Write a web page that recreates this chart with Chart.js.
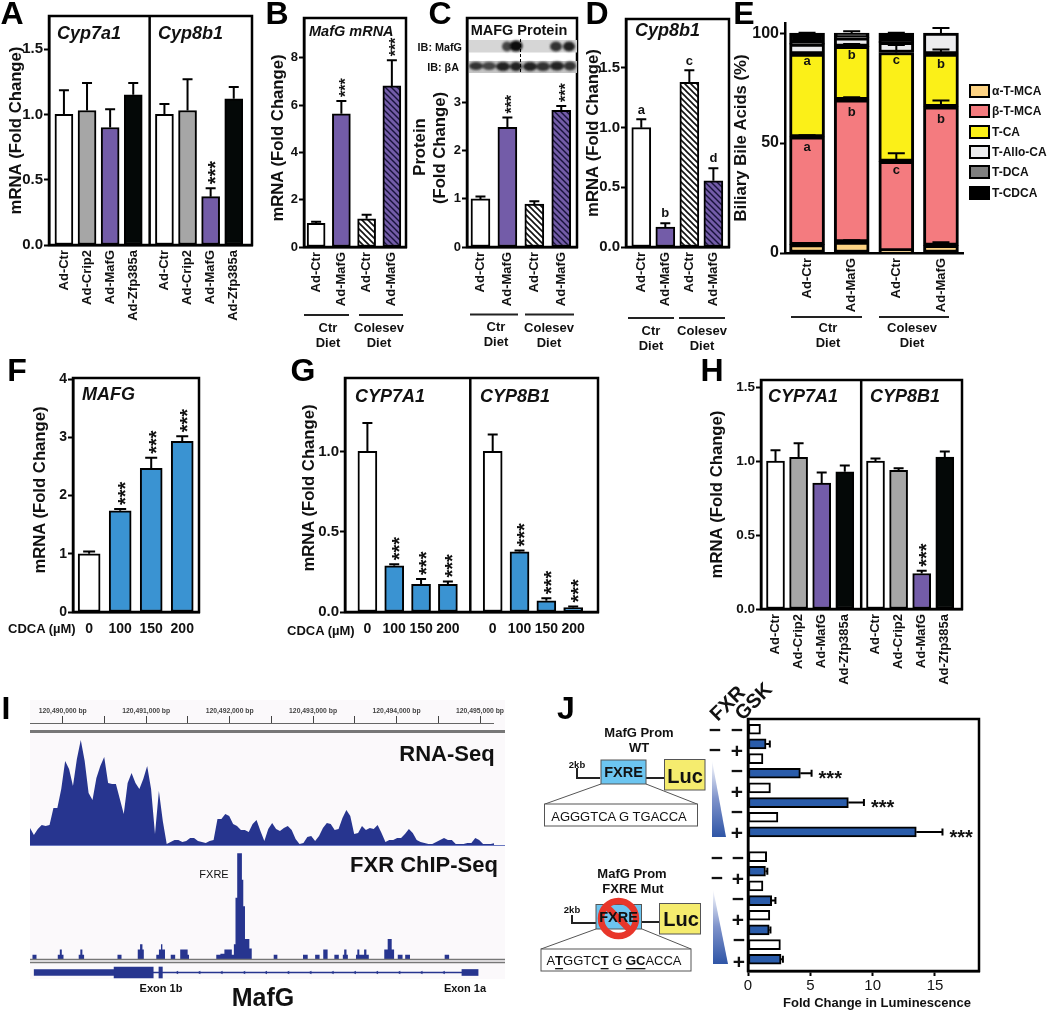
<!DOCTYPE html>
<html>
<head>
<meta charset="utf-8">
<title>MafG figure</title>
<script src="https://cdn.jsdelivr.net/npm/chart.js@4"></script>
<style>
	html, body { margin: 0; padding: 0; background: #fff; }
	body { position: relative; width: 1050px; height: 1010px; overflow: hidden; }
	canvas { position: absolute; z-index: 1; }
	#track_bg { position: absolute; z-index: 0; left: 30px; top: 700px; width: 475px; height: 279px; background: #fbf9fb; }
	#overlay { position: absolute; z-index: 5; left: 0; top: 0; }
	#overlay text { font-family: "Liberation Sans", Arial, sans-serif; font-weight: bold; fill: #111; dominant-baseline: central; text-anchor: middle; }
	#overlay text.letter { font-size: 32px; fill: #000; }
	#overlay text.gene { font-size: 18px; font-style: italic; text-anchor: start; }
	#overlay text.ytitle { font-size: 16.7px; }
	#overlay text.diet { font-size: 13px; }
	#overlay text.sign { font-size: 21px; }
	#overlay text.seq { font-size: 13px; font-weight: normal; }
	.legend_box { position: absolute; z-index: 2; left: 969px; width: 21px; height: 14px; box-sizing: border-box; border: 2.5px solid #000; }
	.legend_text { position: absolute; z-index: 2; left: 992px; font: bold 12px "Liberation Sans", Arial, sans-serif; color: #111; line-height: 14px; white-space: nowrap; }
</style>
</head>
<body>
<div id="track_bg"></div>

<svg id="overlay" width="1050" height="1010" viewBox="0 0 1050 1010">
	<defs>
		<filter id="smear"><feGaussianBlur stdDeviation="1.3"/></filter>
		<linearGradient id="wedge" x1="0" y1="0" x2="0" y2="1">
			<stop offset="0" stop-color="#ffffff"/>
			<stop offset="0.5" stop-color="#7f93cb"/>
			<stop offset="1" stop-color="#2f55a6"/>
		</linearGradient>
	</defs>

	<text class="letter" x="12" y="13">A</text>
	<text class="letter" x="277" y="13">B</text>
	<text class="letter" x="440" y="13">C</text>
	<text class="letter" x="597" y="13">D</text>
	<text class="letter" x="744" y="13">E</text>
	<text class="letter" x="17" y="370">F</text>
	<text class="letter" x="303" y="370">G</text>
	<text class="letter" x="712" y="370">H</text>
	<text class="letter" x="6" y="708">I</text>
	<text class="letter" x="566" y="708">J</text>

	<text class="gene" x="57" y="33">Cyp7a1</text>
	<text class="gene" x="158" y="33">Cyp8b1</text>
	<text class="gene" x="309" y="31" style="font-size:14.5px">MafG mRNA</text>
	<text class="gene" x="635" y="30">Cyp8b1</text>
	<text class="gene" x="82" y="394">MAFG</text>
	<text class="gene" x="355" y="396">CYP7A1</text>
	<text class="gene" x="480" y="396">CYP8B1</text>
	<text class="gene" x="768" y="396">CYP7A1</text>
	<text class="gene" x="870" y="396">CYP8B1</text>

	<text class="ytitle" x="277" y="138" transform="rotate(-90 277 138)">mRNA (Fold Change)</text>
	<text class="ytitle" x="419" y="147" transform="rotate(-90 419 147)">Protein</text>
	<text class="ytitle" x="439" y="148" transform="rotate(-90 439 148)">(Fold Change)</text>
	<text class="ytitle" x="39" y="490" transform="rotate(-90 39 490)">mRNA (Fold Change)</text>
	<text class="ytitle" x="308" y="488" transform="rotate(-90 308 488)">mRNA (Fold Change)</text>

	<!-- blot strips above panel C -->
	<rect x="469" y="40" width="108" height="12.5" fill="#d6d6d6"/>
	<rect x="469" y="61" width="108" height="12" fill="#c4c4c4"/>
	<g filter="url(#smear)">
		<ellipse cx="507" cy="46.5" rx="5" ry="5" fill="#444"/>
		<ellipse cx="516" cy="46" rx="6.5" ry="5.5" fill="#111"/>
		<ellipse cx="556" cy="46.5" rx="6" ry="5" fill="#333"/>
		<ellipse cx="569" cy="46.5" rx="6" ry="5" fill="#222"/>
		<ellipse cx="476" cy="66" rx="7" ry="4" fill="#333"/>
		<ellipse cx="489" cy="66" rx="7" ry="4" fill="#444"/>
		<ellipse cx="503" cy="66.5" rx="7" ry="4.5" fill="#222"/>
		<ellipse cx="516" cy="66.5" rx="6" ry="4.5" fill="#222"/>
		<ellipse cx="530" cy="66.5" rx="7" ry="4.5" fill="#222"/>
		<ellipse cx="543" cy="66.5" rx="7" ry="4.5" fill="#333"/>
		<ellipse cx="557" cy="66" rx="7" ry="4.5" fill="#222"/>
		<ellipse cx="570" cy="66" rx="6" ry="4.5" fill="#333"/>
	</g>
	<line x1="520.5" y1="39" x2="520.5" y2="74" stroke="#000" stroke-width="1" stroke-dasharray="3 2"/>
	<text x="519" y="30" style="font-size:14.5px">MAFG Protein</text>
	<text x="462" y="47" style="font-size:10.8px;text-anchor:end">IB: MafG</text>
	<text x="459" y="67" style="font-size:10.8px;text-anchor:end">IB: βA</text>

	<!-- diet brackets -->
	<g stroke="#222" stroke-width="2">
		<line x1="304" y1="315" x2="349" y2="315"/>
		<line x1="359" y1="315" x2="403" y2="315"/>
		<line x1="470" y1="314.5" x2="518" y2="314.5"/>
		<line x1="525" y1="314.5" x2="574" y2="314.5"/>
		<line x1="628" y1="318" x2="674" y2="318"/>
		<line x1="679" y1="318" x2="725" y2="318"/>
		<line x1="791" y1="317" x2="862" y2="317"/>
		<line x1="879" y1="317" x2="949" y2="317"/>
	</g>
	<text class="diet" x="328" y="327">Ctr</text><text class="diet" x="328" y="342">Diet</text>
	<text class="diet" x="379" y="327">Colesev</text><text class="diet" x="379" y="342">Diet</text>
	<text class="diet" x="496" y="326">Ctr</text><text class="diet" x="496" y="341">Diet</text>
	<text class="diet" x="549" y="327">Colesev</text><text class="diet" x="549" y="342">Diet</text>
	<text class="diet" x="651" y="330">Ctr</text><text class="diet" x="651" y="345">Diet</text>
	<text class="diet" x="702" y="330">Colesev</text><text class="diet" x="702" y="345">Diet</text>
	<text class="diet" x="828" y="327">Ctr</text><text class="diet" x="828" y="342">Diet</text>
	<text class="diet" x="912" y="327">Colesev</text><text class="diet" x="912" y="342">Diet</text>

	<text x="8" y="628" style="font-size:13px;text-anchor:start">CDCA (µM)</text>
	<text x="287" y="630" style="font-size:13px;text-anchor:start">CDCA (µM)</text>

	<!-- browser track furniture -->
	<rect x="30" y="730" width="475" height="3" fill="#777"/>
	<line x1="30" y1="845.5" x2="505" y2="845.5" stroke="#6a78c0" stroke-width="1"/>
	<line x1="30" y1="959.5" x2="505" y2="959.5" stroke="#777" stroke-width="1.5"/>
	<line x1="30" y1="962.5" x2="505" y2="962.5" stroke="#777" stroke-width="1.5"/>
	<text x="447" y="753" style="font-size:22px">RNA-Seq</text>
	<text x="424" y="864" style="font-size:22px">FXR ChIP-Seq</text>
	<text x="214" y="874" style="font-size:11px;font-weight:normal">FXRE</text>
	<text x="161" y="988" style="font-size:11px">Exon 1b</text>
	<text x="465" y="988" style="font-size:11px">Exon 1a</text>
	<text x="263" y="997" style="font-size:25px">MafG</text>

	<!-- promoter constructs -->
	<text class="diet" x="639" y="732">MafG Prom</text>
	<text class="diet" x="639" y="747">WT</text>
	<text x="577" y="764" style="font-size:9.5px">2kb</text>
	<polyline points="577,768 577,778 600,778" fill="none" stroke="#222" stroke-width="2"/>
	<line x1="646" y1="778" x2="664" y2="778" stroke="#222" stroke-width="2"/>
	<rect x="601" y="760" width="45" height="24" fill="#6cc5f0" stroke="#555"/>
	<text x="623.5" y="772" style="font-size:14.5px">FXRE</text>
	<rect x="664.5" y="759.5" width="40.5" height="30.5" fill="#f5ec6e" stroke="#555"/>
	<text x="685" y="776" style="font-size:20px">Luc</text>
	<line x1="601" y1="784" x2="545" y2="804" stroke="#555"/>
	<line x1="646" y1="784" x2="697" y2="804" stroke="#555"/>
	<rect x="544.5" y="804" width="153" height="22" fill="#fff" stroke="#555"/>
	<text class="seq" x="619" y="816">AGGGTCA G TGACCA</text>

	<text class="diet" x="632" y="873">MafG Prom</text>
	<text class="diet" x="633" y="888">FXRE Mut</text>
	<text x="572" y="909" style="font-size:9.5px">2kb</text>
	<polyline points="572,915 572,923 596,923" fill="none" stroke="#222" stroke-width="2"/>
	<line x1="642" y1="922" x2="659" y2="922" stroke="#222" stroke-width="2"/>
	<rect x="596" y="904.5" width="45.5" height="24.5" fill="#6cc5f0" stroke="#555"/>
	<circle cx="618.5" cy="918.5" r="17.5" fill="none" stroke="#e8362a" stroke-width="6.5"/>
	<line x1="606" y1="906" x2="631" y2="931" stroke="#e8362a" stroke-width="6.5"/>
	<text x="618.5" y="917" style="font-size:14.5px">FXRE</text>
	<rect x="659.5" y="903.5" width="41" height="30.5" fill="#f5ec6e" stroke="#555"/>
	<text x="681" y="919" style="font-size:20px">Luc</text>
	<line x1="596" y1="929" x2="541" y2="949" stroke="#555"/>
	<line x1="642" y1="929" x2="691" y2="949" stroke="#555"/>
	<rect x="541" y="949" width="150" height="22" fill="#fff" stroke="#555"/>
	<text class="seq" x="614" y="960">A<tspan font-weight="bold" text-decoration="underline">T</tspan>GGTC<tspan font-weight="bold" text-decoration="underline">T</tspan> G <tspan font-weight="bold" text-decoration="underline">GC</tspan>ACCA</text>

	<polygon points="712,760 726,837 712,837" fill="url(#wedge)"/>
	<polygon points="713,889 728,964 713,964" fill="url(#wedge)"/>

	<text x="727" y="703" transform="rotate(-45 727 703)" style="font-size:20px">FXR</text>
	<text x="753" y="701" transform="rotate(-45 753 701)" style="font-size:20px">GSK</text>
	<text class="sign" x="715" y="729">−</text><text class="sign" x="737" y="729">−</text>
	<text class="sign" x="715" y="749">−</text><text class="sign" x="737" y="750">+</text>
	<text class="sign" x="737" y="770">−</text><text class="sign" x="737" y="791">+</text>
	<text class="sign" x="737" y="811">−</text><text class="sign" x="737" y="832">+</text>
	<text class="sign" x="717" y="857">−</text><text class="sign" x="738" y="857">−</text>
	<text class="sign" x="717" y="877">−</text><text class="sign" x="738" y="878">+</text>
	<text class="sign" x="738" y="898">−</text><text class="sign" x="738" y="919">+</text>
	<text class="sign" x="739" y="939">−</text><text class="sign" x="739" y="961">+</text>
	<text x="877" y="1002" style="font-size:13px">Fold Change in Luminescence</text>
</svg>

<script>
// Panel A
var a_labels = ['Ad-Ctr', 'Ad-Crip2', 'Ad-MafG', 'Ad-Zfp385a', 'Ad-Ctr', 'Ad-Crip2', 'Ad-MafG', 'Ad-Zfp385a'];
var a_values = [1.0, 1.03, 0.9, 1.15, 1.0, 1.03, 0.37, 1.12];
var a_tops = [1.185, 1.24, 1.04, 1.24, 1.08, 1.27, 0.435, 1.21];
var a_starred = [6];
var a_ticks = ['0.0', '0.5', '1.0', '1.5'];

// Panel B
var b_labels = ['Ad-Ctr', 'Ad-MafG', 'Ad-Ctr', 'Ad-MafG'];
var b_values = [1.0, 5.63, 1.19, 6.81];
var b_tops = [1.07, 6.17, 1.36, 7.89];
var b_starred = [1, 3];
var b_ticks = ['0', '2', '4', '6', '8'];

// Panel C
var c_labels = ['Ad-Ctr', 'Ad-MafG', 'Ad-Ctr', 'Ad-MafG'];
var c_values = [1.0, 2.49, 0.89, 2.84];
var c_tops = [1.05, 2.69, 0.95, 2.93];
var c_starred = [1, 3];
var c_ticks = ['0', '1', '2', '3'];

// Panel D
var d_labels = ['Ad-Ctr', 'Ad-MafG', 'Ad-Ctr', 'Ad-MafG'];
var d_values = [1.0, 0.167, 1.38, 0.554];
var d_tops = [1.07, 0.2, 1.48, 0.66];
var d_ticks = ['0.0', '0.5', '1.0', '1.5'];
var d_letters = ['a', 'b', 'c', 'd'];
var d_letter_bars = [0, 1, 2, 3];
var d_letter_y = [1.147, 0.285, 1.556, 0.743];

// Panel E, stacked from the bottom up
var e_labels = ['Ad-Ctr', 'Ad-MafG', 'Ad-Ctr', 'Ad-MafG'];
var e_names = ['α-T-MCA', 'β-T-MCA', 'T-CA', 'T-Allo-CA', 'T-DCA', 'T-CDCA'];
var e_alpha = [3.8, 5, 1, 3.5];
var e_beta = [49, 64.7, 40.7, 63];
var e_ca = [37.7, 24.3, 49.5, 24];
var e_allo = [4.5, 3.8, 4.6, 9.5];
var e_dca = [0.3, 0.3, 0.3, 0];
var e_cdca = [4.7, 1.9, 3.9, 0];
var e_alpha_tops = [null, 5.8, null, 4.9];
var e_beta_tops = [53.5, 70.8, 45.4, 69.4];
var e_ca_tops = [91, 95, 94.6, 92.6];
var e_allo_tops = [null, null, null, 102.3];
var e_cdca_tops = [100.2, 100.9, 100.2, null];
var e_ticks = ['0', '50', '100'];
var e_letters = ['a', 'a', 'b', 'b', 'c', 'c', 'b', 'b'];
var e_letter_bars = [0, 0, 1, 1, 2, 2, 3, 3];
var e_letter_y = [87, 48, 90, 64, 87.7, 37.4, 85.8, 60.9];

// Panel F
var f_labels = ['0', '100', '150', '200'];
var f_values = [1.0, 1.74, 2.47, 2.93];
var f_tops = [1.04, 1.77, 2.65, 3.02];
var f_starred = [1, 2, 3];
var f_ticks = ['0', '1', '2', '3', '4'];

// Panel G
var g_labels = ['0', '100', '150', '200', '0', '100', '150', '200'];
var g_values = [1.0, 0.288, 0.173, 0.173, 1.0, 0.375, 0.07, 0.027];
var g_tops = [1.177, 0.297, 0.206, 0.19, 1.105, 0.383, 0.086, 0.034];
var g_starred = [1, 2, 3, 5, 6, 7];
var g_ticks = ['0.0', '0.5', '1.0'];

// Panel H
var h_labels = ['Ad-Ctr', 'Ad-Crip2', 'Ad-MafG', 'Ad-Zfp385a', 'Ad-Ctr', 'Ad-Crip2', 'Ad-MafG', 'Ad-Zfp385a'];
var h_values = [1.0, 1.025, 0.852, 0.927, 1.0, 0.938, 0.24, 1.027];
var h_tops = [1.073, 1.12, 0.922, 0.97, 1.018, 0.952, 0.258, 1.064];
var h_starred = [6];
var h_ticks = ['0.0', '0.5', '1.0', '1.5'];

// Panel I, browser tracks (coverage)
var ruler_bp = [120490000, 120490500, 120491000, 120491500, 120492000, 120492500, 120493000, 120493500, 120494000, 120494500, 120495000];
var ruler_labels = ['120,490,000 bp', '', '120,491,000 bp', '', '120,492,000 bp', '', '120,493,000 bp', '', '120,494,000 bp', '', '120,495,000 bp'];
var rna_coverage = [
	17, 10, 16, 20, 19, 20, 37, 37, 56, 84, 76, 59, 86, 105, 84, 52, 45, 67, 79, 88,
	62, 61, 61, 46, 31, 62, 72, 62, 56, 66, 79, 56, 11, 54, 24, 1, 3, 5, 5, 3,
	4, 7, 7, 4, 3, 2, 4, 5, 26, 26, 31, 29, 21, 19, 15, 15, 13, 21, 25, 14,
	4, 16, 22, 16, 14, 17, 19, 15, 6, 1, 2, 8, 9, 4, 9, 17, 22, 21, 15, 16,
	27, 35, 29, 11, 12, 19, 15, 17, 16, 20, 12, 3, 5, 5, 7, 7, 11, 16, 12, 5,
	3, 2, 1, 1, 3, 5, 7, 5, 5, 1, 1, 1, 2, 2, 7, 5, 1, 1, 1, 2, 2
];
var chip_pos = [
	-392, -363, -316, -67, -43, -20, 0, 178, 197, 221, 241, 632, 679, 869, 896, 924, 940, 1086, 1117, 1141,
	1157, 1188, 1255, 1307, 1366, 1453, 1469, 1788, 1836, 1883, 1970, 1994, 2013, 2033, 2088, 2104, 2124, 2175, 2203, 2460,
	2503, 2803, 2858, 2945, 2997, 3040, 3091, 3170, 3222, 3269, 3285, 3312, 3328, 3423, 3439, 3462, 3518, 3545, 3573, 3754,
	3794, 3841, 3869, 3912, 3968, 3999, 4055, 4461, 4513, 5167
];
var chip_coverage = [
	0, 4, 0, 4, 9, 4, 0, 4, 9, 4, 0, 4, 0, 9, 14, 9, 0, 4, 9, 14,
	9, 0, 4, 0, 9, 4, 0, 4, 5, 9, 4, 14, 58, 100, 75, 50, 19, 10, 0, 4,
	0, 4, 0, 4, 0, 9, 0, 4, 0, 4, 9, 4, 0, 4, 9, 4, 9, 4, 0, 9,
	19, 9, 0, 4, 0, 4, 0, 4, 0, 0
];
var gene_utr = [[-343, 592], [4663, 4852]];
var gene_cds = [[592, 1050], [1117, 1157]];
var gene_intron = [[1050, 4663]];
var gene_arrows = [1330, 1590, 1850, 2115, 2370, 2630, 2890, 3150, 3410, 3670, 3930, 4190, 4450];

// Panel J
var j_values = [1.0, 1.45, 1.2, 4.2, 1.8, 8.05, 2.4, 13.5, 1.5, 1.4, 1.2, 1.9, 1.75, 1.7, 2.6, 2.65];
var j_tops = [null, 1.75, null, 5.1, null, 9.3, null, 15.6, null, 1.55, null, 2.2, null, 1.8, null, 2.8];
var j_starred = [3, 5, 7];
var j_ticks = ['0', '5', '10', '15'];

var WHITE = '#ffffff', GRAY = '#a6a6a6', PURPLE = '#735ca8', BLACK = '#040807', BLUE = '#3a93d2', NAVY = '#27358f', J_BLUE = '#2a5caa';
var Y_ROOM = 60, TOP_ROOM = 12, RIGHT_ROOM = 14, BOTTOM_ROOM = 90;

Chart.defaults.font.family = '"Liberation Sans", Arial, sans-serif';
Chart.defaults.color = '#111';
Chart.defaults.animation = false;

function hatch(bg, line, width) {
	var c = document.createElement('canvas');
	c.width = 6;
	c.height = 6;
	var x = c.getContext('2d');
	x.fillStyle = bg;
	x.fillRect(0, 0, 6, 6);
	x.strokeStyle = line;
	x.lineWidth = width;
	x.beginPath();
	x.moveTo(-1, -1);
	x.lineTo(7, 7);
	x.moveTo(-1, 5);
	x.lineTo(1, 7);
	x.moveTo(5, -1);
	x.lineTo(7, 1);
	x.stroke();
	return x.createPattern(c, 'repeat');
}

var HATCH_W = hatch('#ffffff', '#111111', 1.6);
var HATCH_P = hatch(PURPLE, '#17123a', 1.4);

function add_canvas(left, top, width, height) {
	var c = document.createElement('canvas');
	c.width = width;
	c.height = height;
	c.style.left = left + 'px';
	c.style.top = top + 'px';
	c.style.width = width + 'px';
	c.style.height = height + 'px';
	document.body.appendChild(c);
	return c;
}

function draw_stars(ctx, x, y, size, upright) {
	ctx.save();
	ctx.font = 'bold ' + size + 'px "Liberation Sans", Arial, sans-serif';
	ctx.fillStyle = '#111';
	ctx.textAlign = 'left';
	ctx.textBaseline = 'alphabetic';
	if (upright) {
		ctx.translate(x + size * 0.58, y);
		ctx.rotate(-Math.PI / 2);
	} else {
		ctx.translate(x, y + size * 0.58);
	}
	ctx.fillText('***', 0, 0);
	ctx.restore();
}

// error bars, significance stars, letters and the box round each panel
function panel_marks(cfg) {
	return {
		id: 'panel_marks',
		afterDatasetsDraw: function(chart) {
			var ctx = chart.ctx;
			var xs = chart.scales.x;
			var ys = chart.scales.y;
			var area = chart.chartArea;
			var cap = (cfg.cap_w || 10) / 2;
			var star_size = cfg.star_size || 20;

			ctx.save();
			ctx.strokeStyle = '#000';
			ctx.lineWidth = 2;

			chart.data.datasets.forEach(function(ds, d) {
				if (!ds.tops) {
					return;
				}
				var bars = chart.getDatasetMeta(d).data;
				ds.tops.forEach(function(top, i) {
					if (top === null) {
						return;
					}
					var bar = bars[i];
					ctx.beginPath();
					if (cfg.horizontal) {
						var px = xs.getPixelForValue(top);
						ctx.moveTo(bar.x, bar.y);
						ctx.lineTo(px, bar.y);
						ctx.moveTo(px, bar.y - cap);
						ctx.lineTo(px, bar.y + cap);
					} else {
						var py = ys.getPixelForValue(top);
						ctx.moveTo(bar.x, bar.y);
						ctx.lineTo(bar.x, py);
						ctx.moveTo(bar.x - cap, py);
						ctx.lineTo(bar.x + cap, py);
					}
					ctx.stroke();
					if (ds.starred && ds.starred.indexOf(i) >= 0) {
						if (cfg.horizontal) {
							draw_stars(ctx, px + 7, bar.y, star_size, false);
						} else {
							draw_stars(ctx, bar.x, py - 4, star_size, true);
						}
					}
				});
			});

			if (cfg.letters) {
				ctx.font = 'bold 13px "Liberation Sans", Arial, sans-serif';
				ctx.fillStyle = '#111';
				ctx.textAlign = 'center';
				ctx.textBaseline = 'middle';
				cfg.letters.forEach(function(text, i) {
					ctx.fillText(text, xs.getPixelForValue(cfg.positions[cfg.letter_bars[i]]), ys.getPixelForValue(cfg.letter_y[i]));
				});
			}

			if (cfg.frame !== false) {
				ctx.lineWidth = 2.5;
				ctx.strokeRect(area.left, area.top, area.right - area.left, area.bottom - area.top);
				if (cfg.divider_at) {
					var dx = xs.getPixelForValue(cfg.divider_at);
					ctx.beginPath();
					ctx.moveTo(dx, area.top);
					ctx.lineTo(dx, area.bottom);
					ctx.stroke();
				}
			}
			ctx.restore();
		}
	};
}

function bar_positions(count, group_at, group_gap) {
	var out = [];
	for (var i = 0; i < count; i++) {
		out.push(i + (group_at && i >= group_at ? group_gap : 0));
	}
	return out;
}

function value_axis(cfg, labels, max) {
	var axis = {
		type: 'linear',
		offset: false,
		min: 0,
		max: max,
		afterBuildTicks: function(s) {
			s.ticks = labels.map(function(v) { return {value: Number(v)}; });
		},
		ticks: {
			autoSkip: false,
			padding: 1,
			font: {size: cfg.tick_size || 14, weight: 'bold'},
			callback: function(v, i) { return labels[i]; }
		},
		grid: {drawOnChartArea: false, drawTicks: true, tickLength: 5, tickWidth: 2, tickColor: '#000'},
		border: {display: true, color: '#000', width: 2.5}
	};
	return axis;
}

function bar_panel(cfg) {
	var box = cfg.box;
	var width = Y_ROOM + (box[2] - box[0]) + RIGHT_ROOM;
	var height = TOP_ROOM + (box[3] - box[1]) + BOTTOM_ROOM;
	var left = box[0] - Y_ROOM;
	var canvas = add_canvas(left, box[1] - TOP_ROOM, width, height);

	cfg.positions = bar_positions(cfg.labels.length, cfg.group_at, cfg.group_gap);

	var datasets = cfg.series.map(function(s) {
		return {
			label: s.name,
			data: s.values.map(function(v, i) { return {x: cfg.positions[i], y: v}; }),
			backgroundColor: s.fills,
			borderColor: '#000',
			borderWidth: cfg.border_w || 2,
			borderSkipped: false,
			barThickness: cfg.bar_w,
			tops: s.tops,
			starred: s.starred
		};
	});

	var y_axis = value_axis(cfg, cfg.y_ticks, cfg.y_max);
	y_axis.stacked = !!cfg.stacked;
	y_axis.afterFit = function(s) { s.width = Y_ROOM; };
	if (cfg.y_title) {
		y_axis.title = {
			display: true,
			text: cfg.y_title,
			color: '#111',
			font: {size: 16.7, weight: 'bold'},
			padding: {top: cfg.y_title_x - left - 10, bottom: 0}
		};
	}

	new Chart(canvas, {
		type: 'bar',
		data: {datasets: datasets},
		options: {
			responsive: false,
			devicePixelRatio: 1,
			layout: {autoPadding: false, padding: {top: TOP_ROOM, right: RIGHT_ROOM, left: 0, bottom: 0}},
			plugins: {legend: {display: false}, tooltip: {enabled: false}},
			scales: {
				x: {
					type: 'linear',
					offset: false,
					stacked: !!cfg.stacked,
					min: cfg.x_range[0],
					max: cfg.x_range[1],
					afterBuildTicks: function(s) {
						s.ticks = cfg.positions.map(function(p) { return {value: p}; });
					},
					afterFit: function(s) { s.height = BOTTOM_ROOM; },
					ticks: {
						autoSkip: false,
						minRotation: cfg.flat_labels ? 0 : 90,
						maxRotation: cfg.flat_labels ? 0 : 90,
						padding: cfg.flat_labels ? 9 : 5,
						font: {size: cfg.flat_labels ? 14 : 13, weight: 'bold'},
						callback: function(v, i) { return cfg.labels[i]; }
					},
					grid: {display: false, drawTicks: false},
					border: {display: true, color: '#000', width: 2.5}
				},
				y: y_axis
			}
		},
		plugins: [panel_marks(cfg)]
	});
}

bar_panel({
	box: [49, 16, 252, 245], y_max: 1.754, x_range: [-0.646, 8.14], group_at: 4, group_gap: 0.35, divider_at: 3.71,
	bar_w: 18, y_title: 'mRNA (Fold Change)', y_title_x: 16, tick_size: 15,
	labels: a_labels, y_ticks: a_ticks,
	series: [{values: a_values, tops: a_tops, starred: a_starred, fills: [WHITE, GRAY, PURPLE, BLACK, WHITE, GRAY, PURPLE, BLACK]}]
});
bar_panel({
	box: [304, 18, 406, 247], y_max: 9.68, x_range: [-0.48, 3.56],
	bar_w: 18, star_size: 16, tick_size: 13,
	labels: b_labels, y_ticks: b_ticks,
	series: [{values: b_values, tops: b_tops, starred: b_starred, fills: [WHITE, PURPLE, HATCH_W, HATCH_P]}]
});
bar_panel({
	box: [467, 18, 577, 247], y_max: 4.76, x_range: [-0.5, 3.585],
	bar_w: 19, star_size: 16, tick_size: 13,
	labels: c_labels, y_ticks: c_ticks,
	series: [{values: c_values, tops: c_tops, starred: c_starred, fills: [WHITE, PURPLE, HATCH_W, HATCH_P]}]
});
bar_panel({
	box: [626, 19, 729, 247], y_max: 1.91, x_range: [-0.636, 3.65],
	bar_w: 19, y_title: 'mRNA (Fold Change)', y_title_x: 593, tick_size: 15,
	labels: d_labels, y_ticks: d_ticks,
	letters: d_letters, letter_bars: d_letter_bars, letter_y: d_letter_y,
	series: [{values: d_values, tops: d_tops, fills: [WHITE, PURPLE, HATCH_W, HATCH_P]}]
});

var e_fills = ['#fdd383', '#f47b7f', '#fbf018', '#ececee', '#7f7f7f', '#000000'];
bar_panel({
	box: [785, 23, 963, 253], y_max: 104.6, x_range: [-0.494, 3.494], stacked: true, frame: false,
	bar_w: 35, border_w: 3, cap_w: 17, y_title: 'Biliary Bile Acids (%)', y_title_x: 741, tick_size: 16,
	labels: e_labels, y_ticks: e_ticks,
	letters: e_letters, letter_bars: e_letter_bars, letter_y: e_letter_y,
	series: [
		{name: e_names[0], values: e_alpha, tops: e_alpha_tops, fills: e_fills[0]},
		{name: e_names[1], values: e_beta, tops: e_beta_tops, fills: e_fills[1]},
		{name: e_names[2], values: e_ca, tops: e_ca_tops, fills: e_fills[2]},
		{name: e_names[3], values: e_allo, tops: e_allo_tops, fills: e_fills[3]},
		{name: e_names[4], values: e_dca, fills: e_fills[4]},
		{name: e_names[5], values: e_cdca, tops: e_cdca_tops, fills: e_fills[5]}
	]
});
e_names.forEach(function(name, i) {
	var swatch = document.createElement('div');
	swatch.className = 'legend_box';
	swatch.style.top = (84 + i * 20.3) + 'px';
	swatch.style.background = e_fills[i];
	document.body.appendChild(swatch);
	var text = document.createElement('div');
	text.className = 'legend_text';
	text.style.top = (84 + i * 20.3) + 'px';
	text.textContent = name;
	document.body.appendChild(text);
});

bar_panel({
	box: [73, 378, 199, 612], y_max: 4.02, x_range: [-0.52, 3.54], flat_labels: true,
	bar_w: 22, cap_w: 12, tick_size: 14,
	labels: f_labels, y_ticks: f_ticks,
	series: [{values: f_values, tops: f_tops, starred: f_starred, fills: [WHITE, BLUE, BLUE, BLUE]}]
});
bar_panel({
	box: [345, 378, 598, 612], y_max: 1.457, x_range: [-0.835, 8.595], group_at: 4, group_gap: 0.67, divider_at: 3.835, flat_labels: true,
	bar_w: 19, cap_w: 10, tick_size: 15,
	labels: g_labels, y_ticks: g_ticks,
	series: [{values: g_values, tops: g_tops, starred: g_starred, fills: [WHITE, BLUE, BLUE, BLUE, WHITE, BLUE, BLUE, BLUE]}]
});
bar_panel({
	box: [761, 380, 962, 609], y_max: 1.548, x_range: [-0.628, 8.075], group_at: 4, group_gap: 0.33, divider_at: 3.71,
	bar_w: 18, y_title: 'mRNA (Fold Change)', y_title_x: 717, tick_size: 13.5,
	labels: h_labels, y_ticks: h_ticks,
	series: [{values: h_values, tops: h_tops, starred: h_starred, fills: [WHITE, GRAY, PURPLE, BLACK, WHITE, GRAY, PURPLE, BLACK]}]
});

// Panel I: ruler with RNA track, ChIP track and the gene model all share this bp range
var BP_LEFT = 120489608, BP_RIGHT = 120495167, RNA_BIN_BP = 46.8, BP_ORIGIN = 120490000;

function track_chart(left, top, width, height, top_room, y_max, points, with_ruler) {
	var canvas = add_canvas(left, top, width, height);
	new Chart(canvas, {
		type: 'line',
		data: {
			datasets: [{
				data: points,
				stepped: !with_ruler,
				fill: 'origin',
				borderWidth: 0,
				pointRadius: 0,
				backgroundColor: NAVY
			}]
		},
		options: {
			responsive: false,
			devicePixelRatio: 1,
			layout: {autoPadding: false, padding: {top: with_ruler ? 0 : top_room}},
			plugins: {legend: {display: false}, tooltip: {enabled: false}},
			scales: {
				x: {
					type: 'linear',
					position: 'top',
					display: with_ruler,
					min: BP_LEFT,
					max: BP_RIGHT,
					afterBuildTicks: function(s) {
						s.ticks = ruler_bp.map(function(v) { return {value: v}; });
					},
					afterFit: function(s) { s.height = top_room; },
					ticks: {
						autoSkip: false,
						maxRotation: 0,
						minRotation: 0,
						padding: 1,
						color: '#444',
						font: {size: 6.8, weight: 'bold'},
						callback: function(v, i) { return ruler_labels[i]; }
					},
					grid: {drawOnChartArea: false, drawTicks: true, tickLength: 7, tickWidth: 1, tickColor: '#444'},
					border: {display: true, color: '#666', width: 1}
				},
				y: {type: 'linear', display: false, min: 0, max: y_max}
			}
		}
	});
}

track_chart(30, 700, 475, 145, 23, 122, rna_coverage.map(function(v, i) {
	return {x: BP_LEFT + i * RNA_BIN_BP, y: v};
}), true);
track_chart(30, 848, 475, 111, 0, 105, chip_pos.map(function(p, i) {
	return {x: BP_ORIGIN + p, y: chip_coverage[i]};
}), false);

function gene_bars(spans, thickness) {
	return {
		data: spans.map(function(s) { return {x: [BP_ORIGIN + s[0], BP_ORIGIN + s[1]], y: 0}; }),
		backgroundColor: NAVY,
		barThickness: thickness
	};
}

new Chart(add_canvas(30, 965, 475, 15), {
	type: 'bar',
	data: {
		datasets: [
			{
				type: 'scatter',
				data: gene_arrows.map(function(p) { return {x: BP_ORIGIN + p, y: 0}; }),
				pointStyle: 'triangle',
				rotation: -90,
				radius: 2,
				backgroundColor: NAVY,
				borderWidth: 0
			},
			gene_bars(gene_intron, 1),
			gene_bars(gene_utr, 6),
			gene_bars(gene_cds, 11)
		]
	},
	options: {
		responsive: false,
		devicePixelRatio: 1,
		indexAxis: 'y',
		layout: {autoPadding: false},
		datasets: {bar: {grouped: false}},
		plugins: {legend: {display: false}, tooltip: {enabled: false}},
		scales: {
			x: {type: 'linear', display: false, min: BP_LEFT, max: BP_RIGHT},
			y: {type: 'linear', display: false, offset: false, min: -1, max: 1}
		}
	}
});

// Panel J
var j_cfg = {horizontal: true, cap_w: 7, star_size: 20};
var j_positions = bar_positions(j_values.length, 8, 0.68);
var j_fills = j_values.map(function(v, i) { return i % 2 ? J_BLUE : WHITE; });

new Chart(add_canvas(748 - Y_ROOM, 719 - TOP_ROOM, Y_ROOM + 231 + RIGHT_ROOM, TOP_ROOM + 252 + 40), {
	type: 'bar',
	data: {
		datasets: [{
			data: j_values.map(function(v, i) { return {x: v, y: j_positions[i]}; }),
			backgroundColor: j_fills,
			borderColor: '#000',
			borderWidth: 2,
			borderSkipped: false,
			barThickness: 10,
			tops: j_tops,
			starred: j_starred
		}]
	},
	options: {
		responsive: false,
		devicePixelRatio: 1,
		indexAxis: 'y',
		layout: {autoPadding: false, padding: {top: TOP_ROOM, right: RIGHT_ROOM, left: 0, bottom: 0}},
		plugins: {legend: {display: false}, tooltip: {enabled: false}},
		scales: {
			x: (function() {
				var axis = value_axis({tick_size: 15}, j_ticks, 18.53);
				axis.ticks.font.weight = 'normal';
				axis.afterFit = function(s) { s.height = 40; };
				return axis;
			})(),
			y: {
				type: 'linear',
				offset: false,
				reverse: true,
				min: -0.7,
				max: 16.48,
				afterFit: function(s) { s.width = Y_ROOM; },
				ticks: {display: false},
				grid: {display: false},
				border: {display: true, color: '#000', width: 2.5}
			}
		}
	},
	plugins: [panel_marks(j_cfg)]
});
</script>
</body>
</html>
